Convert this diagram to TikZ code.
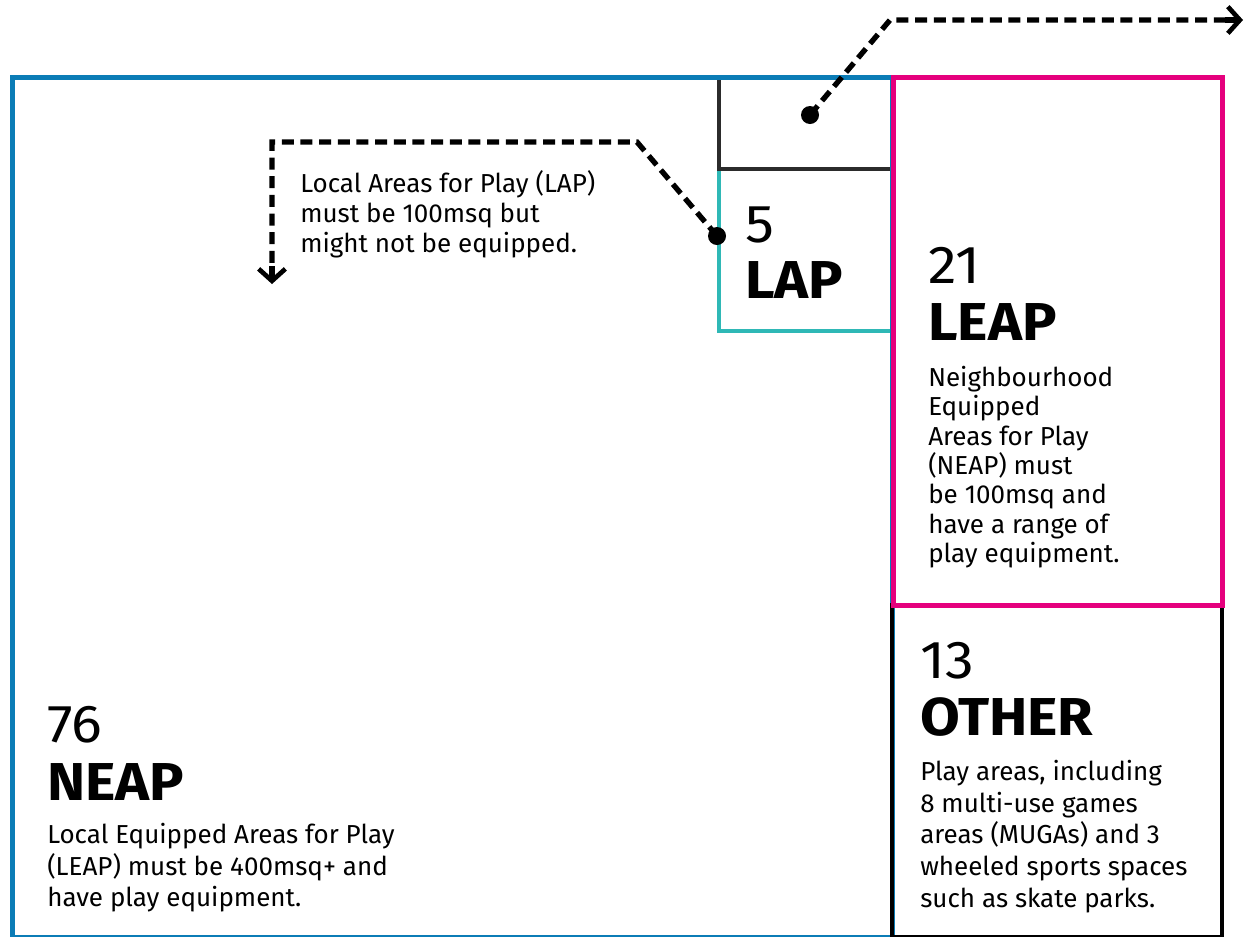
\documentclass[tikz,border=0pt]{standalone}
\usepackage{fontspec}
\setmainfont{Fira Sans}
\newfontfamily\bigfont{Fira Sans}[FakeStretch=1.08]
\usetikzlibrary{arrows.meta}

\definecolor{neapblue}{HTML}{0B7CB6}
\definecolor{lapteal}{HTML}{2FB8B6}
\definecolor{leappink}{HTML}{E5007D}
\definecolor{darkgrey}{HTML}{2B2B2B}

\begin{document}
\begin{tikzpicture}[
    x=0.75pt, y=-0.75pt,
    box/.style={rectangle, draw, anchor=north west, inner sep=0pt, line width=3.2pt},
    num/.style={anchor=base west, inner sep=0pt, font=\bigfont\fontsize{40}{40}\selectfont},
    title/.style={anchor=base west, inner sep=0pt, font=\bigfont\fontsize{40}{40}\selectfont\bfseries},
    desc/.style={anchor=north west, inner sep=0pt, align=left, font=\fontsize{19.5}{23.75}\selectfont},
    dot/.style={circle, fill=black, inner sep=0pt, minimum size=13.5pt},
    leader/.style={line width=4pt, dash pattern=on 9pt off 5pt},
    tip/.style={line width=4pt, -{Straight Barb[length=9pt, width=20pt, line width=3.5pt]}},
]
    \useasboundingbox (0,0) rectangle (1245,936);

    % Boxes
    \node[box, draw=lapteal, minimum width=129.75pt, minimum height=121.5pt] (lap) at (717,167) {};
    \node[box, draw=darkgrey, minimum width=129.75pt, minimum height=69pt] (top) at (717,75) {};
    \node[box, draw=neapblue, line width=4pt, minimum width=660pt, minimum height=645pt] (neap) at (10,75) {};
    \node[box, draw=black, minimum width=247.5pt, minimum height=249pt] (other) at (890,603) {};
    \node[box, draw=leappink, line width=4pt, minimum width=246.75pt, minimum height=396pt] (leap) at (891,75) {};

    % LAP
    \node[num] (lapnum) at (745,242) {5};
    \node[title] (laptitle) at (745,298) {LAP};

    % LEAP
    \node[num] (leapnum) at (928,283) {21};
    \node[title] (leaptitle) at (928,340) {LEAP};
    \node[desc, font=\fontsize{19.5}{22}\selectfont] (leapdesc) at (928,366) {Neighbourhood\\Equipped\\Areas for Play\\(NEAP) must\\be 100msq and\\have a range of\\play equipment.};

    % OTHER
    \node[num] (othernum) at (920,678) {13};
    \node[title] (othertitle) at (920,735) {OTHER};
    \node[desc] (otherdesc) at (920,760) {Play areas, including\\8 multi-use games\\areas (MUGAs) and 3\\wheeled sports spaces\\such as skate parks.};

    % NEAP
    \node[num] (neapnum) at (47,742) {76};
    \node[title] (neaptitle) at (47,800) {NEAP};
    \node[desc] (neapdesc) at (47,823) {Local Equipped Areas for Play\\(LEAP) must be 400msq+ and\\have play equipment.};

    % LAP note
    \node[desc, font=\fontsize{19.5}{22.5}\selectfont] (lapnote) at (300,170) {Local Areas for Play (LAP)\\must be 100msq but\\might not be equipped.};

    % Leaders
    \node[dot] (topdot) at (810,115) {};
    \node[dot] (lapdot) at (717,236) {};
    \coordinate (topneck) at (1225,20);
    \coordinate (topend) at (1243,20);
    \coordinate (noteneck) at (272,266);
    \coordinate (noteend) at (272,284);
    \draw[leader] (topdot.center) -- (890,20) -- (topneck);
    \draw[tip] (topneck) -- (topend);
    \draw[leader] (lapdot.center) -- (637,142) -- (272,142) -- (noteneck);
    \draw[tip] (noteneck) -- (noteend);
\end{tikzpicture}
\end{document}
